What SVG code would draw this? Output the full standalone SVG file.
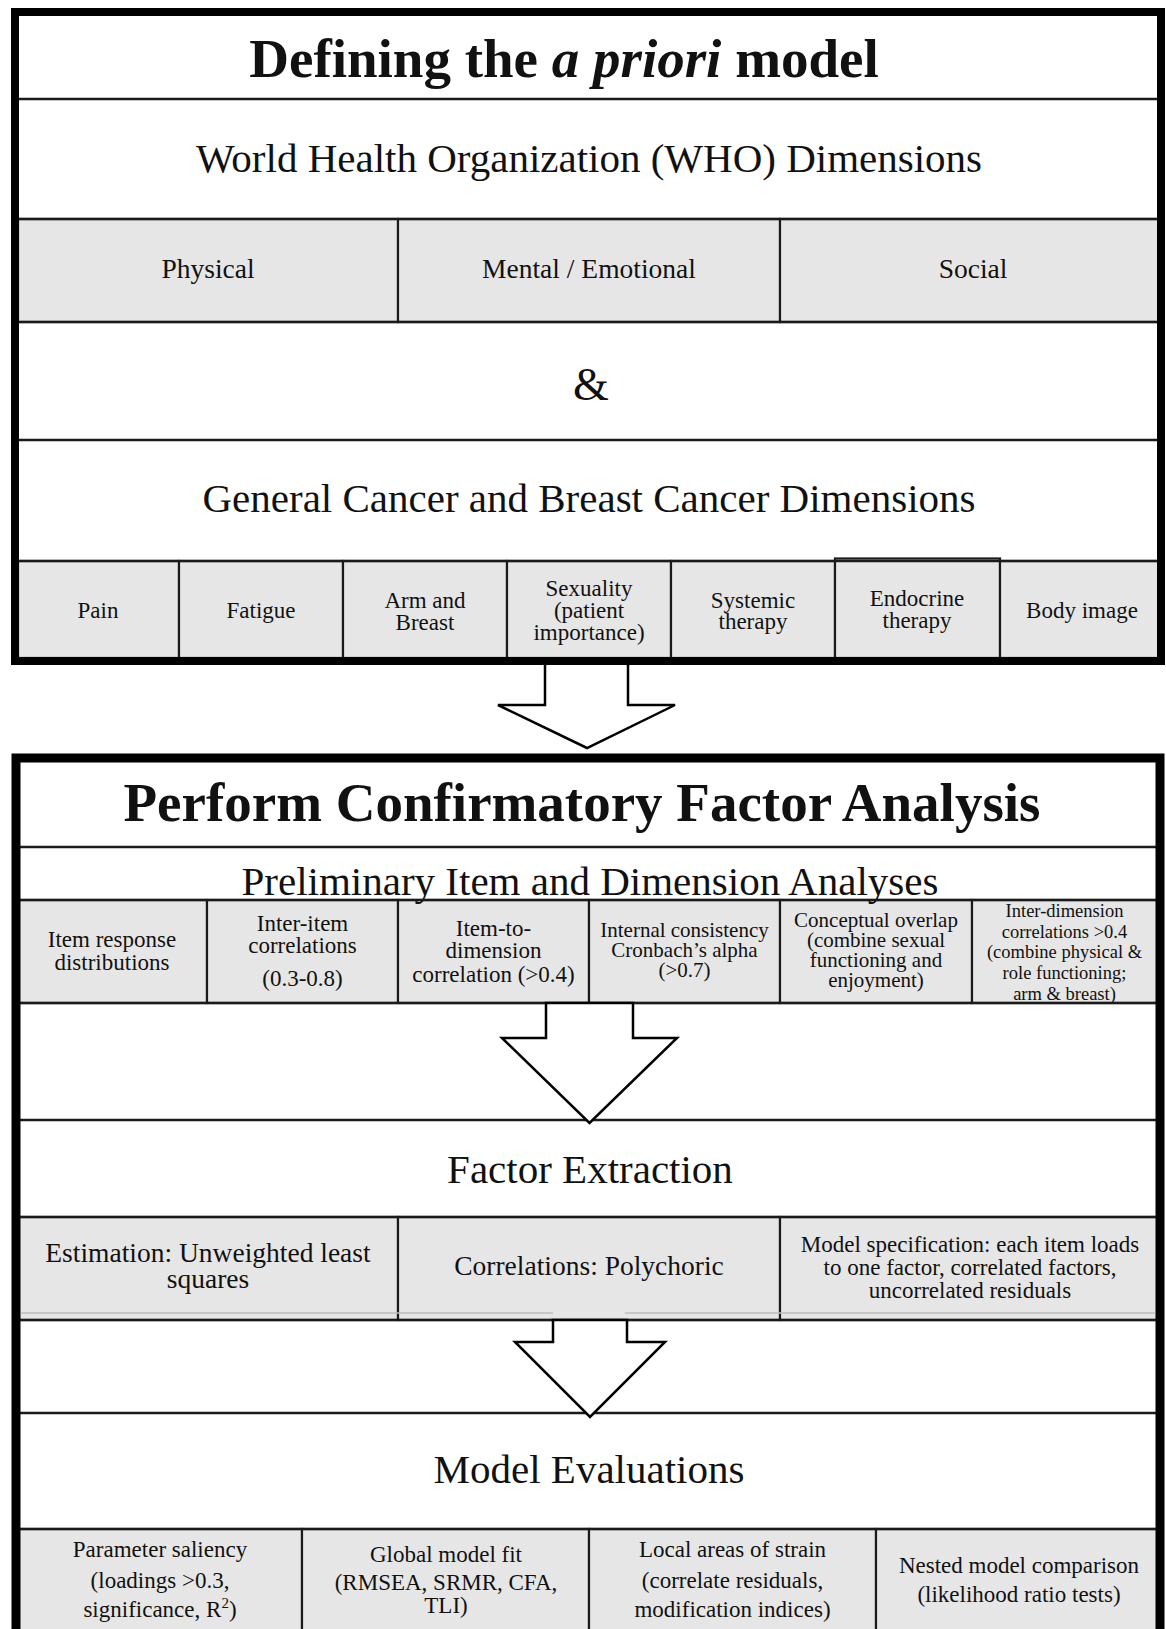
<svg xmlns="http://www.w3.org/2000/svg" width="1166" height="1629" viewBox="0 0 1166 1629">
<style>
.t{font-family:"Liberation Serif","Times New Roman",serif;text-anchor:middle;fill:#111}
.title{font-weight:bold;font-size:55px}
.h{font-size:41px}
.c27{font-size:27.5px}
.c23{font-size:23px}
.c21{font-size:21px}
.c18{font-size:18.5px}
.cell{fill:#e6e6e6;stroke:#1a1a1a;stroke-width:2.2}
.bg{fill:#fff;stroke:none}
.hl{stroke:#1a1a1a;stroke-width:2.5;fill:none}
.frame{fill:none;stroke:#000;stroke-width:8}
.arrow{fill:#fff;stroke:#000;stroke-width:2.5;stroke-linejoin:miter}
.faint{stroke:#bdbdbd;stroke-width:1.5}
</style>
<rect x="0" y="0" width="1166" height="1629" fill="#fff"/>

<!-- Box 1 -->
<g id="box1">
<rect class="bg" x="15" y="12" width="1146" height="649"/>
<g id="title1"><text class="t title" x="564" y="77">Defining the <tspan font-style="italic">a priori</tspan> model</text></g>
<g id="who"><text class="t h" x="589" y="172">World Health Organization (WHO) Dimensions</text></g>
<g id="physical"><rect class="cell" x="18" y="219" width="380" height="103"/><text class="t c27" x="208" y="278">Physical</text></g>
<g id="mental"><rect class="cell" x="398" y="219" width="382" height="103"/><text class="t c27" x="589" y="278">Mental / Emotional</text></g>
<g id="social"><rect class="cell" x="780" y="219" width="379" height="103"/><text class="t c27" x="973" y="278">Social</text></g>
<g id="amp"><text class="t" style="font-size:46px" x="591" y="400">&amp;</text></g>
<g id="general"><text class="t h" x="589" y="512">General Cancer and Breast Cancer Dimensions</text></g>
<g id="pain"><rect class="cell" x="18" y="561" width="161" height="97"/><text class="t c23" x="98" y="618">Pain</text></g>
<g id="fatigue"><rect class="cell" x="179" y="561" width="164" height="97"/><text class="t c23" x="261" y="618">Fatigue</text></g>
<g id="armbreast"><rect class="cell" x="343" y="561" width="164" height="97"/><text class="t c23" x="425" y="608">Arm and</text><text class="t c23" x="425" y="630">Breast</text></g>
<g id="sexuality"><rect class="cell" x="507" y="561" width="164" height="97"/><text class="t c23" x="589" y="596">Sexuality</text><text class="t c23" x="589" y="618">(patient</text><text class="t c23" x="589" y="640">importance)</text></g>
<g id="systemic"><rect class="cell" x="671" y="561" width="164" height="97"/><text class="t c23" x="753" y="608">Systemic</text><text class="t c23" x="753" y="629">therapy</text></g>
<g id="endocrine"><rect class="cell" x="835" y="558.5" width="165" height="99.5"/><text class="t c23" x="917" y="606">Endocrine</text><text class="t c23" x="917" y="628">therapy</text></g>
<g id="bodyimage"><rect class="cell" x="1000" y="561" width="159" height="97"/><text class="t c23" x="1082" y="618">Body image</text></g>
</g>

<!-- Box 2 -->
<g id="box2">
<rect class="bg" x="16" y="758" width="1144" height="880"/>
<g id="title2"><text class="t title" x="582" y="821">Perform Confirmatory Factor Analysis</text></g>
<g id="itemresp"><rect class="cell" x="18" y="900" width="189" height="103"/><text class="t c23" x="112" y="947">Item response</text><text class="t c23" x="112" y="970">distributions</text></g>
<g id="interitem"><rect class="cell" x="207" y="900" width="191" height="103"/><text class="t c23" x="302.5" y="931">Inter-item</text><text class="t c23" x="302.5" y="953">correlations</text><text class="t c23" x="302.5" y="986">(0.3-0.8)</text></g>
<g id="itemtodim"><rect class="cell" x="398" y="900" width="191" height="103"/><text class="t c23" x="493.5" y="936">Item-to-</text><text class="t c23" x="493.5" y="958">dimension</text><text class="t c23" x="493.5" y="982">correlation (&gt;0.4)</text></g>
<g id="internal"><rect class="cell" x="589" y="900" width="191" height="103"/><text class="t c21" x="684.5" y="937">Internal consistency</text><text class="t c21" x="684.5" y="957">Cronbach’s alpha</text><text class="t c21" x="684.5" y="977">(&gt;0.7)</text></g>
<g id="conceptual"><rect class="cell" x="780" y="900" width="192" height="103"/><text class="t c21" x="876" y="927">Conceptual overlap</text><text class="t c21" x="876" y="947">(combine sexual</text><text class="t c21" x="876" y="967">functioning and</text><text class="t c21" x="876" y="987">enjoyment)</text></g>
<g id="interdim"><rect class="cell" x="972" y="900" width="186" height="103"/><text class="t c18" x="1064.5" y="917">Inter-dimension</text><text class="t c18" x="1064.5" y="938">correlations &gt;0.4</text><text class="t c18" x="1064.5" y="958">(combine physical &amp;</text><text class="t c18" x="1064.5" y="979">role functioning;</text><text class="t c18" x="1064.5" y="1000">arm &amp; breast)</text></g>
<g id="prelim"><text class="t h" x="590" y="895">Preliminary Item and Dimension Analyses</text></g>
<g id="factorext"><text class="t h" x="590" y="1183">Factor Extraction</text></g>
<g id="estimation"><rect class="cell" x="18" y="1217" width="380" height="103"/><text class="t c27" x="208" y="1262">Estimation: Unweighted least</text><text class="t c27" x="208" y="1288">squares</text></g>
<g id="polychoric"><rect class="cell" x="398" y="1217" width="382" height="103"/><text class="t c27" x="589" y="1275">Correlations: Polychoric</text></g>
<g id="modelspec"><rect class="cell" x="780" y="1217" width="378" height="103"/><text class="t c23" x="970" y="1252">Model specification: each item loads</text><text class="t c23" x="970" y="1275">to one factor, correlated factors,</text><text class="t c23" x="970" y="1298">uncorrelated residuals</text></g>
<g id="modeleval"><text class="t h" x="589" y="1483">Model Evaluations</text></g>
<g id="saliency"><rect class="cell" x="18" y="1529" width="284" height="110"/><text class="t c23" x="160" y="1557">Parameter saliency</text><text class="t c23" x="160" y="1588">(loadings &gt;0.3,</text><text class="t c23" x="160" y="1617">significance, R<tspan font-size="15" dy="-9">2</tspan><tspan dy="9">)</tspan></text></g>
<g id="globalfit"><rect class="cell" x="302" y="1529" width="287" height="110"/><text class="t c23" x="446" y="1562">Global model fit</text><text class="t c23" x="446" y="1590">(RMSEA, SRMR, CFA,</text><text class="t c23" x="446" y="1613">TLI)</text></g>
<g id="localstrain"><rect class="cell" x="589" y="1529" width="287" height="110"/><text class="t c23" x="732.5" y="1557">Local areas of strain</text><text class="t c23" x="732.5" y="1588">(correlate residuals,</text><text class="t c23" x="732.5" y="1617">modification indices)</text></g>
<g id="nested"><rect class="cell" x="876" y="1529" width="282" height="110"/><text class="t c23" x="1019" y="1573">Nested model comparison</text><text class="t c23" x="1019" y="1602">(likelihood ratio tests)</text></g>
</g>

<!-- separator lines -->
<g id="lines">
<line class="hl" x1="15" y1="99" x2="1161" y2="99"/>
<line class="hl" x1="15" y1="219" x2="1161" y2="219"/>
<line class="hl" x1="15" y1="322" x2="1161" y2="322"/>
<line class="hl" x1="15" y1="440" x2="1161" y2="440"/>
<line class="hl" x1="15" y1="561" x2="1161" y2="561"/>
<line class="hl" x1="16" y1="847" x2="1160" y2="847"/>
<line class="hl" x1="16" y1="900" x2="1160" y2="900"/>
<line class="hl" x1="16" y1="1003" x2="1160" y2="1003"/>
<line class="hl" x1="16" y1="1120" x2="1160" y2="1120"/>
<line class="hl" x1="16" y1="1217" x2="1160" y2="1217"/>
<line class="hl" x1="16" y1="1320" x2="1160" y2="1320"/>
<line class="hl" x1="16" y1="1413" x2="1160" y2="1413"/>
<line class="hl" x1="16" y1="1529" x2="1160" y2="1529"/>
<line class="faint" x1="21" y1="1313" x2="553" y2="1313"/>
<line class="faint" x1="625" y1="1313" x2="1155" y2="1313"/>
</g>

<!-- connectors -->
<g id="connectors">
<polygon class="arrow" points="545,660 628,660 628,705 675,705 587,748 498,705 545,705"/>
<polygon class="arrow" points="546,1003 633,1003 633,1038 677,1038 589.5,1123 502,1038 546,1038"/>
<polygon class="arrow" points="553,1320 627,1320 627,1342 665,1342 590,1417 515,1342 553,1342"/>
</g>

<!-- frames -->
<rect class="frame" x="15" y="12" width="1146" height="649"/>
<rect class="frame" x="16" y="758" width="1144" height="900" style="stroke-width:9"/>
</svg>
